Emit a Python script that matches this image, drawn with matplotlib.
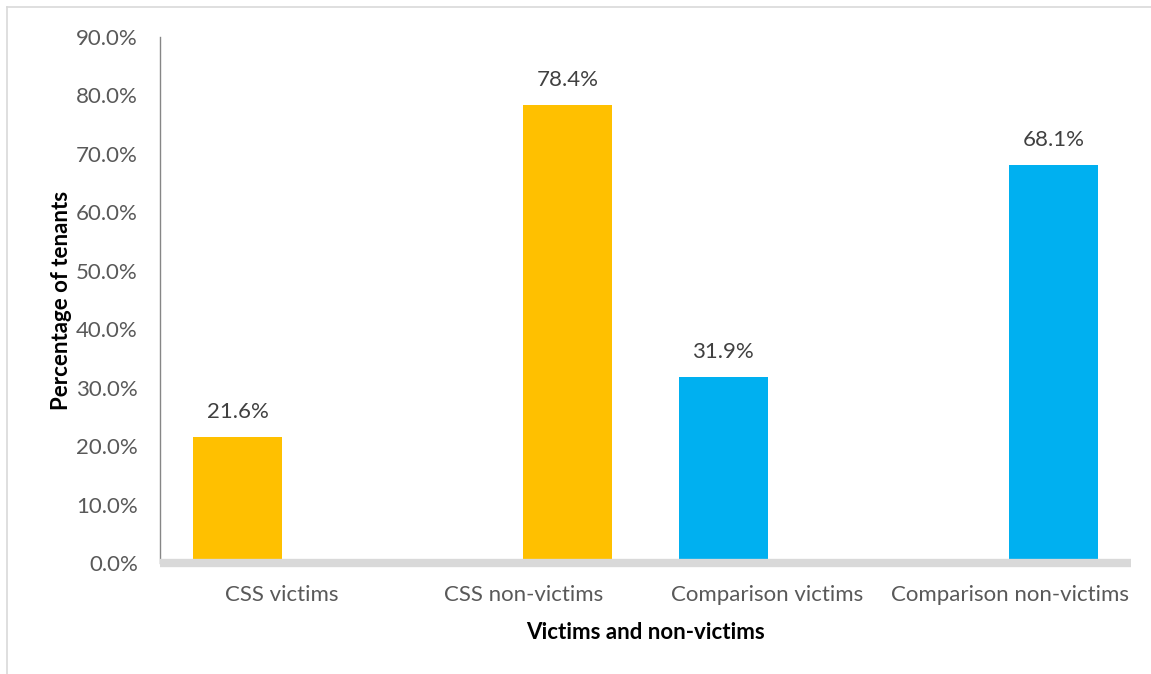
import matplotlib
matplotlib.use("Agg")
import matplotlib.pyplot as plt
from matplotlib.lines import Line2D
import numpy as np

categories = ["CSS victims", "CSS non-victims", "Comparison victims", "Comparison non-victims"]
values = [21.6, 78.4, 31.9, 68.1]
value_labels = ["21.6%", "78.4%", "31.9%", "68.1%"]
bar_colors = ["#FFC000", "#FFC000", "#00B0F0", "#00B0F0"]
y_ticks = [0, 10, 20, 30, 40, 50, 60, 70, 80, 90]
y_tick_labels = ["0.0%", "10.0%", "20.0%", "30.0%", "40.0%", "50.0%", "60.0%", "70.0%", "80.0%", "90.0%"]
x_title = "Victims and non-victims"
y_title = "Percentage of tenants"

plt.rcParams['font.family'] = ['Lato', 'DejaVu Sans']

W, H = 1151, 674
fig = plt.figure(figsize=(W / 100, H / 100), dpi=100)

# figure border (left and top visible)
fig.add_artist(Line2D([7 / W, 7 / W], [0, 1 - 6.5 / H], transform=fig.transFigure,
                      color="#D9D9D9", lw=1.2))
fig.add_artist(Line2D([7 / W, 1], [1 - 6.5 / H, 1 - 6.5 / H], transform=fig.transFigure,
                      color="#D9D9D9", lw=1.2))

left, right = 160 / W, 1131 / W
bottom, top = 1 - 563 / H, 1 - 37 / H
ax = fig.add_axes([left, bottom, right - left, top - bottom])

x = np.arange(len(categories))
width = 0.366
offset = 0.18
side = np.array([-1 if i % 2 == 0 else 1 for i in range(len(categories))])
xpos = x + side * offset
bars = ax.bar(xpos, values, width=width, color=bar_colors, zorder=2)

FS = 16
for b, lab in zip(bars, value_labels):
    ax.annotate(lab, (b.get_x() + b.get_width() / 2, b.get_height()),
                xytext=(0, 10.5), textcoords="offset points", ha="center", va="bottom",
                fontsize=FS, color="#404040")

ax.set_xlim(-0.5, len(categories) - 0.5)
ax.set_ylim(0, 90)
ax.set_yticks(y_ticks)
ax.set_yticklabels(y_tick_labels, fontsize=FS, color="#595959")
ax.set_xticks(x)
ax.set_xticklabels(categories, fontsize=FS, color="#595959")
ax.tick_params(axis="both", length=0)
ax.tick_params(axis="y", pad=16)
ax.tick_params(axis="x", pad=16)

for s in ["top", "right"]:
    ax.spines[s].set_visible(False)
ax.spines["left"].set_color("#868686")
ax.spines["left"].set_linewidth(1.0)
ax.spines["bottom"].set_color("#D9D9D9")
ax.spines["bottom"].set_linewidth(6)
ax.spines["bottom"].set_capstyle("butt")

ax.set_xlabel(x_title, fontsize=FS, fontweight="bold", color="black", labelpad=12)
ax.set_ylabel(y_title, fontsize=FS, fontweight="bold", color="black", labelpad=3)

fig.savefig("out.png", dpi=100, facecolor="white")
